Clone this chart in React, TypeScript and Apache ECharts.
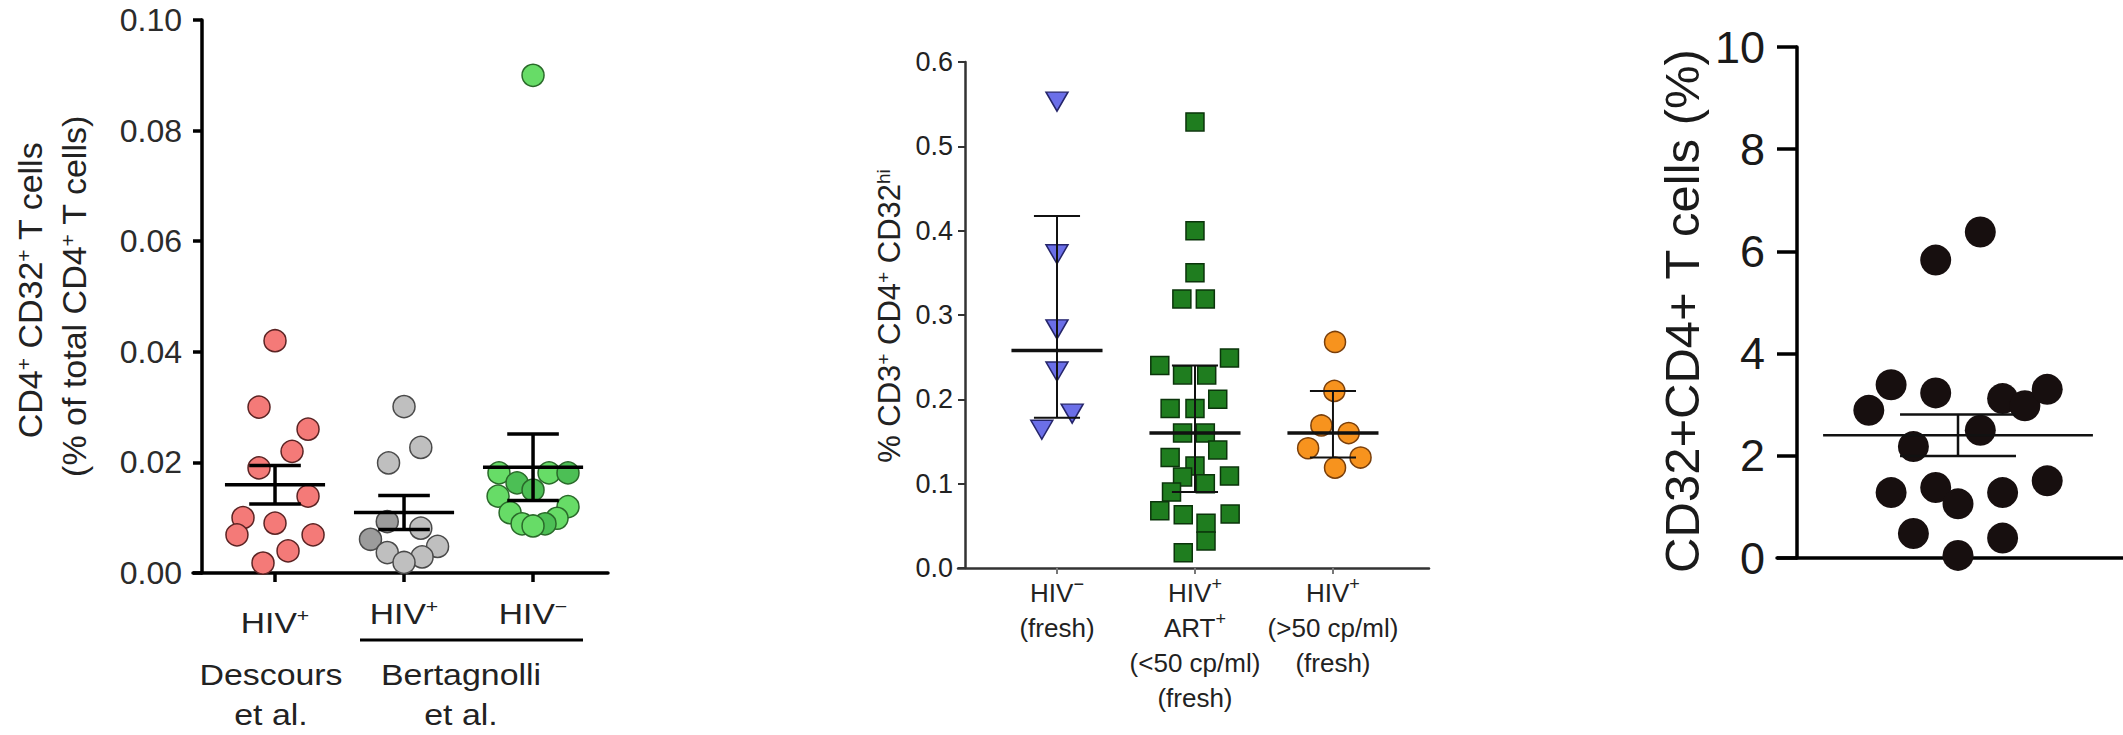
import React, { useEffect, useRef } from "react";
import * as echarts from "echarts";

const FONT = "'Liberation Sans', Arial, Helvetica, sans-serif";

// ---------------- Panel A (left): CD4+ CD32+ T cells, mean ± SEM ----------------
const aYTicks = [0, 0.02, 0.04, 0.06, 0.08, 0.1];
const aRedValues = [0.042, 0.03, 0.026, 0.022, 0.019, 0.0139, 0.01, 0.009, 0.0069, 0.0069, 0.004, 0.0018];
const aRedJitter = [0, -0.124, 0.256, 0.132, -0.124, 0.256, -0.248, 0, -0.295, 0.295, 0.101, -0.093];
const aGrayValues = [0.0301, 0.0227, 0.0199, 0.0093, 0.0081, 0.0061, 0.0048, 0.0037, 0.0029, 0.0019];
const aGrayJitter = [0, 0.13, -0.12, -0.13, 0.13, -0.26, 0.26, -0.13, 0.14, 0];
const aGreenValues = [0.09, 0.0181, 0.0181, 0.0181, 0.0163, 0.015, 0.0139, 0.012, 0.0109, 0.0099, 0.0089, 0.0089, 0.0085];
const aGreenJitter = [0, -0.264, 0.124, 0.271, -0.124, 0, -0.271, 0.271, -0.178, 0.186, -0.085, 0.093, 0];
const aGroupTop = ["HIV{s|+}", "HIV{s|+}", "HIV{s|−}"];
const aStudies = ["Descours\net al.", "Bertagnolli\net al."];
const aYLabel = ["CD4{s|+} CD32{s|+} T cells", "(% of total CD4{s|+} T cells)"];
// points drawn in a darker shade (style only)
const aGrayDarkIdx = [3, 5];
const aGreenDarkIdx = [3, 4, 5, 11];

// ---------------- Panel B (middle): % CD3+ CD4+ CD32hi, median with IQR ----------------
const bYTicks = [0, 0.1, 0.2, 0.3, 0.4, 0.5, 0.6];
const bBlueValues = [0.553, 0.372, 0.283, 0.233, 0.183, 0.164];
const bBlueJitter = [0, 0, 0, 0, 0.11, -0.11];
const bGreenValues = [
  0.529, 0.4, 0.35, 0.319, 0.319, 0.24, 0.249, 0.229, 0.229, 0.2, 0.189, 0.189, 0.16, 0.16,
  0.14, 0.131, 0.121, 0.108, 0.1, 0.109, 0.09, 0.068, 0.063, 0.064, 0.053, 0.032, 0.018,
];
const bGreenJitter = [
  0, 0, 0, -0.095, 0.075, -0.255, 0.25, -0.09, 0.085, 0.165, -0.18, 0, -0.09, 0.075,
  0.165, -0.18, 0, -0.09, 0.075, 0.25, -0.17, -0.255, -0.085, 0.255, 0.08, 0.08, -0.085,
];
const bOrangeValues = [0.268, 0.21, 0.169, 0.16, 0.142, 0.131, 0.119];
const bOrangeJitter = [0.015, 0.01, -0.084, 0.114, -0.18, 0.2, 0.015];
const bCategoryLabels = [
  "HIV{s|−}\n(fresh)",
  "HIV{s|+}\nART{s|+}\n(<50 cp/ml)\n(fresh)",
  "HIV{s|+}\n(>50 cp/ml)\n(fresh)",
];
const bYLabel = "% CD3{s|+} CD4{s|+} CD32{s|hi}";

// ---------------- Panel C (right): CD32+CD4+ T cells (%), mean ± SEM ----------------
const cYTicks = [0, 2, 4, 6, 8, 10];
const cValues = [6.38, 5.83, 3.39, 2.89, 3.23, 3.12, 2.98, 3.3, 2.5, 2.18, 1.28, 1.38, 1.06, 1.28, 1.51, 0.48, 0.39, 0.05];
const cColumns = [1, -1, -3, -4, -1, 2, 3, 4, 1, -2, -3, -1, 0, 2, 4, -2, 2, 0];
const cYLabel = "CD32+CD4+ T cells (%)";

// ---------------- statistics ----------------
const mean = (a: number[]) => a.reduce((s, v) => s + v, 0) / a.length;
const sem = (a: number[]) => {
  const m = mean(a);
  const v = a.reduce((s, x) => s + (x - m) * (x - m), 0) / (a.length - 1);
  return Math.sqrt(v / a.length);
};
const quantile = (a: number[], p: number) => {
  const s = [...a].sort((x, y) => x - y);
  const pos = p * (s.length + 1);
  const i = Math.floor(pos);
  const f = pos - i;
  if (i < 1) return s[0];
  if (i >= s.length) return s[s.length - 1];
  return s[i - 1] + f * (s[i] - s[i - 1]);
};
const meanSem = (x: number, a: number[]) => {
  const m = mean(a);
  const e = sem(a);
  return [x, m, m - e, m + e];
};
const medianIqr = (x: number, a: number[]) => [x, quantile(a, 0.5), quantile(a, 0.25), quantile(a, 0.75)];
const points = (x: number, vals: number[], jit: number[]) => vals.map((v, i) => [x + jit[i], v]);
const shaded = (pts: number[][], darkIdx: number[], darkColor: string) =>
  pts.map((p, i) => (darkIdx.includes(i) ? { value: p, itemStyle: { color: darkColor } } : p));

const summary = (
  xi: number,
  data: number[][],
  halfMain: number,
  halfCap: number,
  wMain: number,
  wErr: number,
  color: string
) => ({
  type: "custom",
  xAxisIndex: xi,
  yAxisIndex: xi,
  z: 5,
  silent: true,
  clip: false,
  encode: { x: 0, y: 1 },
  data,
  renderItem: (_p: any, api: any) => {
    const x = api.value(0);
    const c = api.value(1);
    const lo = api.value(2);
    const hi = api.value(3);
    const P = (a: number, b: number) => api.coord([a, b]);
    const seg = (p1: number[], p2: number[], w: number) => ({
      type: "line",
      shape: { x1: p1[0], y1: p1[1], x2: p2[0], y2: p2[1] },
      style: { stroke: color, lineWidth: w },
    });
    return {
      type: "group",
      children: [
        seg(P(x, lo), P(x, hi), wErr),
        seg(P(x - halfCap, hi), P(x + halfCap, hi), wErr),
        seg(P(x - halfCap, lo), P(x + halfCap, lo), wErr),
        seg(P(x - halfMain, c), P(x + halfMain, c), wMain),
      ],
    };
  },
});

const scatter = (
  xi: number,
  data: any[],
  symbol: string,
  size: any,
  fill: string,
  border: string,
  borderWidth = 1.5,
  extra: any = {}
) => ({
  type: "scatter",
  xAxisIndex: xi,
  yAxisIndex: xi,
  z: 2,
  symbol,
  symbolSize: size,
  itemStyle: { color: fill, borderColor: border, borderWidth, opacity: 1 },
  data,
  ...extra,
});

const supRich = (size: number) => ({ s: { fontSize: size, verticalAlign: "top", fontFamily: FONT } });

const rotText = (x: number, y: number, text: string, size: number, sup: number, color = "#222") => ({
  type: "text",
  x,
  y,
  rotation: Math.PI / 2,
  style: {
    text,
    fontSize: size,
    fontFamily: FONT,
    fill: color,
    align: "center",
    verticalAlign: "middle",
    rich: supRich(sup),
  },
});

const plainText = (x: number, y: number, text: string, size: number, lineHeight: number, sup: number, sx = 1.12) => ({
  type: "text",
  x,
  y,
  scaleX: sx,
  style: {
    text,
    fontSize: size,
    lineHeight,
    fontFamily: FONT,
    fill: "#222",
    align: "center",
    verticalAlign: "middle",
    rich: supRich(sup),
  },
});

export default function App() {
  const ref = useRef<HTMLDivElement>(null);
  useEffect(() => {
    if (!ref.current) return;
    const chart = echarts.init(ref.current, undefined, { renderer: "svg" });
    const black = "#000";
    const option: any = {
      animation: false,
      backgroundColor: "#fff",
      grid: [
        { left: 193, top: 20, width: 415, height: 553 },
        { left: 958, top: 62, width: 471, height: 506 },
        { left: 1777, top: 47, width: 346, height: 511 },
      ],
      xAxis: [
        {
          gridIndex: 0,
          type: "value",
          min: 0.3643,
          max: 3.581,
          axisLine: { show: true, onZero: false, lineStyle: { color: black, width: 3.5 } },
          axisTick: { show: true, customValues: [1, 2, 3], length: 9, lineStyle: { color: black, width: 3.5 } },
          axisLabel: { show: false },
          splitLine: { show: false },
        },
        {
          gridIndex: 1,
          type: "value",
          min: 0.2826,
          max: 3.696,
          axisLine: { show: true, onZero: false, lineStyle: { color: "#333", width: 2.5 } },
          axisTick: { show: true, customValues: [1, 2, 3], length: 6, lineStyle: { color: "#777", width: 2 } },
          axisLabel: {
            show: true,
            customValues: [1, 2, 3],
            formatter: (v: number) => bCategoryLabels[Math.round(v) - 1] ?? "",
            fontSize: 26,
            lineHeight: 35,
            margin: 7,
            color: "#222",
            fontFamily: FONT,
            rich: supRich(18),
          },
          splitLine: { show: false },
        },
        {
          gridIndex: 2,
          type: "value",
          min: -8.117,
          max: 7.399,
          axisLine: { show: true, onZero: false, lineStyle: { color: black, width: 3.5 } },
          axisTick: { show: false },
          axisLabel: { show: false },
          splitLine: { show: false },
        },
      ],
      yAxis: [
        {
          gridIndex: 0,
          type: "value",
          min: aYTicks[0],
          max: aYTicks[aYTicks.length - 1],
          interval: 0.02,
          offset: -9,
          axisLine: { show: true, onZero: false, lineStyle: { color: black, width: 3.5 } },
          axisTick: { show: true, length: 9, lineStyle: { color: black, width: 3.5 } },
          axisLabel: { margin: 20, fontSize: 32, color: "#2b2b2b", fontFamily: FONT, formatter: (v: number) => v.toFixed(2) },
          splitLine: { show: false },
        },
        {
          gridIndex: 1,
          type: "value",
          min: bYTicks[0],
          max: bYTicks[bYTicks.length - 1],
          interval: 0.1,
          offset: -7,
          axisLine: { show: true, onZero: false, lineStyle: { color: "#333", width: 2.5 } },
          axisTick: { show: true, length: 7, lineStyle: { color: "#333", width: 2 } },
          axisLabel: { margin: 12, fontSize: 27, color: "#222", fontFamily: FONT, formatter: (v: number) => v.toFixed(1) },
          splitLine: { show: false },
        },
        {
          gridIndex: 2,
          type: "value",
          min: cYTicks[0],
          max: cYTicks[cYTicks.length - 1],
          interval: 2,
          offset: -20,
          axisLine: { show: true, onZero: false, lineStyle: { color: black, width: 3.5 } },
          axisTick: { show: true, length: 20, lineStyle: { color: black, width: 3.5 } },
          axisLabel: { margin: 32, fontSize: 45, color: "#1a1a1a", fontFamily: FONT, padding: [0, 0, 22, 0] },
          splitLine: { show: false },
        },
      ],
      series: [
        scatter(0, points(1, aRedValues, aRedJitter), "circle", 22, "#f47a78", "#5b2323"),
        scatter(0, shaded(points(2, aGrayValues, aGrayJitter), aGrayDarkIdx, "#9c9c9c"), "circle", 22, "#bfbfbf", "#4a4a4a"),
        scatter(0, shaded(points(3, aGreenValues, aGreenJitter), aGreenDarkIdx, "#4cbf55"), "circle", 22, "#67dc67", "#2a6a2a"),
        summary(0, [meanSem(1, aRedValues), meanSem(2, aGrayValues), meanSem(3, aGreenValues)], 0.388, 0.2, 3.5, 3.5, "#000"),

        scatter(1, points(1, bBlueValues, bBlueJitter), "triangle", [22, 19], "#6b6fe8", "#25256a", 1.5, { symbolRotate: 180 }),
        scatter(1, points(2, bGreenValues, bGreenJitter), "rect", 18, "#1f7d1f", "#0b340b"),
        scatter(1, points(3, bOrangeValues, bOrangeJitter), "circle", 21, "#f7931e", "#7a3f0a"),
        summary(1, [medianIqr(1, bBlueValues), medianIqr(2, bGreenValues), medianIqr(3, bOrangeValues)], 0.33, 0.167, 3.5, 2, "#111"),

        scatter(2, points(0, cValues, cColumns), "circle", 31, "#170f0f", "#170f0f", 0),
        summary(2, [meanSem(0, cValues)], 6.05, 2.6, 2.5, 2.5, "#111"),
      ],
      graphic: [
        // Panel A y label
        rotText(30, 290, aYLabel[0], 34, 21),
        rotText(74, 296, aYLabel[1], 34, 21),
        // Panel A group labels
        plainText(275, 623, aGroupTop[0], 30, 34, 19),
        plainText(404, 614, aGroupTop[1], 30, 34, 19),
        plainText(533, 614, aGroupTop[2], 30, 34, 19),
        { type: "line", shape: { x1: 360, y1: 640, x2: 583, y2: 640 }, style: { stroke: "#000", lineWidth: 3 } },
        plainText(271, 695, aStudies[0], 30, 40, 19, 1.13),
        plainText(461, 695, aStudies[1], 30, 40, 19, 1.13),
        // Panel B y label
        rotText(889, 316, bYLabel, 31, 19),
        // Panel C y label
        rotText(1682, 311, cYLabel, 49, 30, "#1a1a1a"),
      ],
    };
    chart.setOption(option);
    return () => chart.dispose();
  }, []);
  return (
    <div
      ref={ref}
      style={{ position: "fixed", left: 0, top: 0, width: 2123, height: 735, background: "#fff" }}
    />
  );
}
